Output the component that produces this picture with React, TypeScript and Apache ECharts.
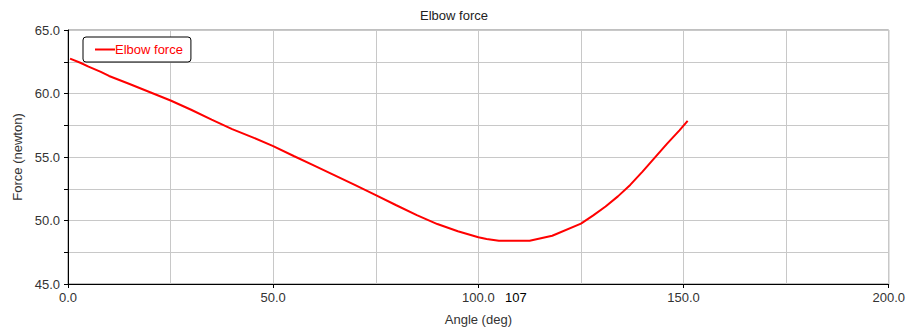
import React, { useEffect, useRef } from "react";
import * as echarts from "echarts";

const chartTitle = "Elbow force";
const seriesName = "Elbow force";
const xAxisName = "Angle (deg)";
const yAxisName = "Force (newton)";

const angles = [0.5, 3, 5, 8, 10, 15, 20, 25, 30, 35, 40, 45, 50, 55, 60, 65, 70, 75, 80, 85, 90, 95, 100, 102, 105, 112.5, 118, 125, 128, 131, 134, 137, 140, 143, 146, 149, 151];
const forces = [62.75, 62.42, 62.12, 61.7, 61.38, 60.75, 60.1, 59.45, 58.72, 57.95, 57.2, 56.55, 55.85, 55.08, 54.32, 53.56, 52.78, 52.0, 51.2, 50.42, 49.72, 49.15, 48.68, 48.55, 48.4, 48.4, 48.8, 49.75, 50.4, 51.1, 51.9, 52.8, 53.85, 54.95, 56.05, 57.1, 57.85];

const xRange = [0, 200];
const yRange = [45, 65];
const markerAngles = [107];

const FONT = "'Liberation Sans', Arial, sans-serif";

export default function App() {
  const ref = useRef<HTMLDivElement>(null);

  useEffect(() => {
    if (!ref.current) return;
    const chart = echarts.init(ref.current, undefined, { renderer: "svg" });
    const gridColor = "#c8c8c8";
    const labelColor = "#333";
    chart.setOption({
      animation: false,
      backgroundColor: "#fff",
      textStyle: { fontFamily: FONT },
      title: {
        text: chartTitle,
        left: "center",
        top: 9,
        padding: 0,
        textStyle: { fontSize: 13, fontWeight: "normal", color: "#222", fontFamily: FONT },
      },
      legend: {
        left: 83,
        top: 37,
        orient: "horizontal",
        padding: [6, 8, 6, 12],
        borderColor: "#000",
        borderWidth: 1,
        borderRadius: 3,
        backgroundColor: "#fff",
        icon: "rect",
        itemWidth: 20,
        itemHeight: 2,
        textStyle: { color: "#ff0000", fontSize: 13, fontFamily: FONT, padding: [0, 0, 0, -5] },
        data: [seriesName],
      },
      grid: {
        left: 68,
        right: 17,
        top: 30,
        bottom: 44,
        show: true,
        borderColor: "#808080",
        borderWidth: 1,
      },
      xAxis: [
        {
          type: "value",
          min: xRange[0],
          max: xRange[1],
          interval: 50,
          name: xAxisName,
          nameLocation: "middle",
          nameGap: 29,
          nameTextStyle: { fontSize: 13, color: labelColor, fontFamily: FONT },
          axisLine: { show: true, onZero: false, lineStyle: { color: "#000", width: 1 } },
          axisTick: { show: true, length: 4, lineStyle: { color: "#000" } },
          axisLabel: {
            fontSize: 13,
            color: labelColor,
            margin: 7,
            fontFamily: FONT,
            formatter: (v: number) => v.toFixed(1),
          },
          splitLine: { show: true, lineStyle: { color: gridColor, width: 1 } },
          minorTick: { show: false, splitNumber: 2 },
          minorSplitLine: { show: true, lineStyle: { color: gridColor, width: 1 } },
        },
        {
          type: "value",
          min: xRange[0],
          max: xRange[1],
          position: "bottom",
          axisLine: { show: false },
          axisTick: { show: false },
          splitLine: { show: false },
          axisLabel: {
            show: true,
            customValues: markerAngles,
            fontSize: 13,
            color: "#000",
            margin: 7,
            align: "left",
            padding: [0, 0, 0, -2],
            fontFamily: FONT,
            formatter: (v: number) => String(v),
          },
        },
      ],
      yAxis: {
        type: "value",
        min: yRange[0],
        max: yRange[1],
        interval: 5,
        name: yAxisName,
        nameLocation: "middle",
        nameGap: 44,
        nameTextStyle: { fontSize: 13, color: labelColor, fontFamily: FONT },
        axisLine: { show: true, onZero: false, lineStyle: { color: "#000", width: 1 } },
        axisTick: { show: true, length: 4, lineStyle: { color: "#000" } },
        axisLabel: {
          fontSize: 13,
          color: labelColor,
          margin: 8,
          fontFamily: FONT,
          formatter: (v: number) => v.toFixed(1),
        },
        splitLine: { show: true, lineStyle: { color: gridColor, width: 1 } },
        minorTick: { show: true, splitNumber: 2, length: 4, lineStyle: { color: "#000" } },
        minorSplitLine: { show: true, lineStyle: { color: gridColor, width: 1 } },
      },
      series: [
        {
          name: seriesName,
          type: "line",
          xAxisIndex: 0,
          data: angles.map((a, i) => [a, forces[i]]),
          showSymbol: false,
          symbol: "none",
          lineStyle: { color: "#ff0000", width: 2 },
          itemStyle: { color: "#ff0000" },
        },
      ],
    });
    return () => chart.dispose();
  }, []);

  return (
    <div
      ref={ref}
      style={{ position: "fixed", left: 0, top: 0, width: 908, height: 331 }}
    />
  );
}
